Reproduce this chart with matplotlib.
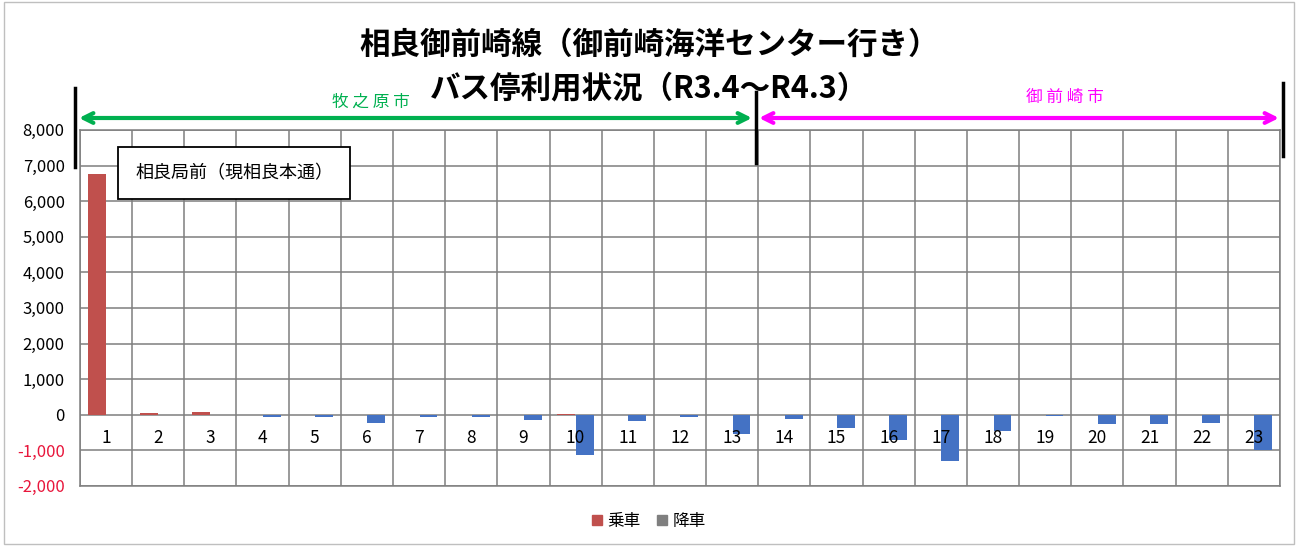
import matplotlib
matplotlib.use("Agg")
import matplotlib.pyplot as plt
from matplotlib.patches import Rectangle, Patch
import numpy as np

plt.rcParams['font.family'] = ['Noto Sans CJK JP', 'DejaVu Sans']

# bus stop numbers and yearly users (R3.4 - R4.3)
stops = list(range(1, 24))
boarding = [6750, 60, 90, 0, 0, 0, 0, 0, 0, 30, 0, 0, 0,
            0, 0, 0, 0, 0, 0, 0, 0, 0, 0]
alighting = [0, 0, 0, -50, -60, -230, -60, -60, -150, -1120, -180, -70, -540,
             -120, -370, -700, -1300, -450, -40, -250, -260, -220, -990]
yticks = [8000, 7000, 6000, 5000, 4000, 3000, 2000, 1000, 0, -1000, -2000]

title1 = "相良御前崎線（御前崎海洋センター行き）"
title2 = "バス停利用状況（R3.4～R4.3）"
note = "相良局前（現相良本通）"

red = "#C0504D"
blue = "#4472C4"
gridc = "#7F7F7F"

fig = plt.figure(figsize=(12.98, 5.46), dpi=100)
fig.patches.append(Rectangle((0.003, 0.004), 0.994, 0.992, transform=fig.transFigure,
                             fill=False, edgecolor="#BFBFBF", linewidth=1.0))

ax = fig.add_axes([0.0616, 0.110, 0.9245, 0.652])
x = np.array(stops)
w = 0.34
ax.bar(x - 0.18, boarding, width=w, color=red, zorder=3)
ax.bar(x + 0.18, alighting, width=w, color=blue, zorder=3)

ax.set_xlim(0.5, 23.5)
ax.set_ylim(-2000, 8000)
ax.set_yticks(yticks)
ax.set_yticklabels([f"{v:,}" for v in yticks], fontsize=12)
for lab, v in zip(ax.get_yticklabels(), yticks):
    if v < 0:
        lab.set_color("#E8173C")
ax.set_xticks(np.arange(0.5, 24, 1))
ax.set_xticklabels([])
ax.tick_params(length=0, pad=11)
ax.grid(True, color=gridc, linewidth=1.1, zorder=0)
for s in ax.spines.values():
    s.set_color(gridc)
    s.set_linewidth(1.1)

for s in stops:
    ax.text(s, -650, str(s), ha="center", va="center", fontsize=12.5, zorder=4)

# annotation box
fig.text(0.104, 0.683, note, fontsize=13, va="center", ha="left",
         bbox=dict(boxstyle="square,pad=0.95", facecolor="white", edgecolor="black", linewidth=1.3))

# titles
fig.text(0.5, 0.918, title1, ha="center", va="center", fontsize=22, fontweight="bold")
fig.text(0.5, 0.838, title2, ha="center", va="center", fontsize=22, fontweight="bold")

# city range arrows
ax2 = fig.add_axes([0, 0, 1, 1], facecolor="none")
ax2.set_xlim(0, 1298)
ax2.set_ylim(546, 0)
ax2.axis("off")
ax2.annotate("", xy=(79, 118), xytext=(752, 118),
             arrowprops=dict(arrowstyle="<->,head_length=0.7,head_width=0.35", color="#00B050",
                             lw=3, shrinkA=0, shrinkB=0))
ax2.annotate("", xy=(759, 118), xytext=(1279, 118),
             arrowprops=dict(arrowstyle="<->,head_length=0.7,head_width=0.35", color="#FF00FF",
                             lw=3, shrinkA=0, shrinkB=0))
ax2.text(371, 102, "牧 之 原 市", color="#00B050", ha="center", va="center", fontsize=12)
ax2.text(1065, 97, "御 前 崎 市", color="#FF00FF", ha="center", va="center", fontsize=12)
ax2.plot([75, 75], [88, 167], color="black", lw=2.5)
ax2.plot([756, 756], [92, 163], color="black", lw=2.5)
ax2.plot([1283, 1283], [83, 156], color="black", lw=2.5)

handles = [Patch(color=red, label="乗車"), Patch(color="#7F7F7F", label="降車")]
fig.legend(handles=handles, loc="center", bbox_to_anchor=(0.5, 0.045), ncol=2,
           frameon=False, fontsize=12, handlelength=0.6, handleheight=0.6,
           handletextpad=0.3, columnspacing=1.0)

fig.savefig("out.png", dpi=100)
